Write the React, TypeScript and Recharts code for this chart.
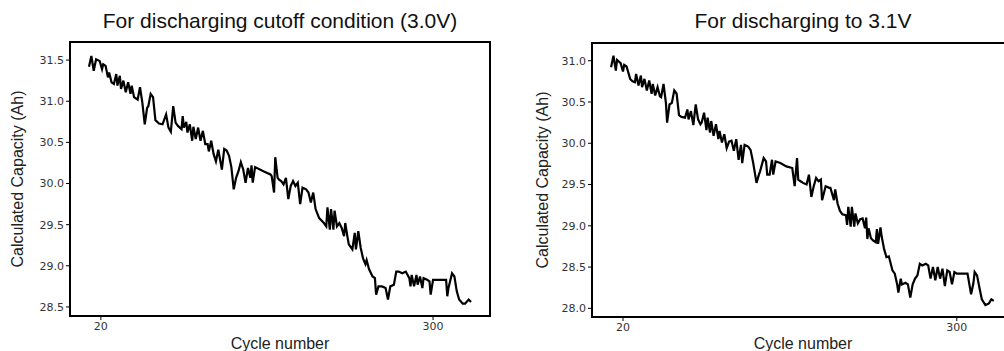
import React from 'react';
import { LineChart, Line, XAxis, YAxis, ReferenceArea, Label } from 'recharts';

// cutoff 3.0V panel
const cycles30 = [
  10, 12, 14, 16, 19, 21, 22, 24, 26, 27, 29, 31, 33, 34, 36, 37, 39, 41, 43, 45, 46, 48, 51, 53, 55, 57, 59, 60, 62, 64,
  66, 69, 72, 75, 77, 79, 81, 83, 85, 88, 89, 90, 92, 93, 95, 97, 98, 100, 102, 104, 106, 108, 110, 111, 113, 115, 117, 119,
  122, 124, 126, 128, 130, 132, 134, 136, 138, 140, 142, 144, 146, 147, 148, 150, 157, 163, 164, 166, 167, 169, 170, 172,
  174, 176, 178, 180, 182, 184, 186, 188, 190, 193, 195, 197, 199, 201, 204, 208, 210, 211, 213, 214, 216, 217, 219, 221,
  223, 225, 226, 228, 229, 232, 234, 235, 237, 239, 241, 243, 244, 246, 249, 251, 252, 254, 257, 260, 262, 264, 267, 269,
  271, 274, 277, 280, 281, 282, 284, 286, 287, 289, 291, 292, 295, 297, 298, 300, 304, 308, 311, 312, 313, 316, 318, 320,
  322, 325, 327, 330, 332,
];
const capacity30 = [
  31.42, 31.55, 31.37, 31.51, 31.49, 31.39, 31.45, 31.43, 31.29, 31.35, 31.23, 31.21, 31.33, 31.19, 31.31, 31.15, 31.25,
  31.11, 31.23, 31.09, 31.19, 31.05, 31.02, 31.17, 30.98, 30.72, 30.92, 30.94, 31.09, 31.05, 30.77, 30.73, 30.72, 30.84,
  30.68, 30.63, 30.94, 30.74, 30.70, 30.66, 30.82, 30.68, 30.75, 30.62, 30.72, 30.52, 30.69, 30.54, 30.68, 30.52, 30.64,
  30.48, 30.48, 30.39, 30.52, 30.36, 30.27, 30.41, 30.17, 30.42, 30.40, 30.34, 30.20, 29.93, 30.07, 30.15, 30.26, 30.17,
  30.01, 30.19, 30.07, 30.22, 30.01, 30.20, 30.15, 30.11, 30.09, 29.89, 30.32, 30.07, 30.05, 30.03, 29.99, 30.07, 29.81,
  29.97, 30.03, 29.97, 30.01, 29.75, 29.95, 29.93, 29.89, 29.77, 29.89, 29.69, 29.58, 29.52, 29.48, 29.71, 29.44, 29.69,
  29.44, 29.67, 29.48, 29.52, 29.46, 29.36, 29.52, 29.34, 29.26, 29.20, 29.40, 29.20, 29.42, 29.22, 29.09, 29.02, 29.07,
  28.96, 28.87, 28.85, 28.65, 28.75, 28.75, 28.73, 28.59, 28.75, 28.77, 28.93, 28.93, 28.91, 28.93, 28.85, 28.75, 28.89,
  28.75, 28.89, 28.77, 28.87, 28.73, 28.85, 28.83, 28.81, 28.65, 28.83, 28.83, 28.83, 28.83, 28.63, 28.73, 28.91, 28.87,
  28.69, 28.59, 28.54, 28.54, 28.59, 28.56,
];

// discharge to 3.1V panel
const cycles31 = [
  10, 12, 14, 15, 18, 20, 21, 23, 26, 28, 30, 31, 33, 35, 36, 38, 40, 42, 44, 45, 47, 49, 51, 52, 54, 56, 57, 59, 61, 63,
  65, 67, 69, 72, 74, 75, 77, 79, 81, 83, 85, 86, 88, 90, 91, 93, 94, 96, 98, 100, 101, 103, 105, 107, 109, 111, 113, 115,
  117, 119, 120, 122, 125, 127, 129, 132, 134, 135, 138, 140, 141, 143, 145, 146, 148, 152, 157, 162, 164, 166, 167, 169,
  171, 174, 176, 178, 180, 182, 184, 186, 187, 190, 193, 194, 197, 198, 200, 202, 204, 207, 208, 209, 211, 212, 214, 215,
  217, 219, 221, 223, 224, 225, 226, 228, 230, 232, 233, 234, 236, 237, 239, 241, 243, 245, 246, 248, 250, 251, 253, 254,
  257, 259, 261, 263, 265, 267, 269, 271, 274, 276, 278, 280, 282, 284, 286, 288, 290, 292, 294, 296, 298, 300, 305, 309,
  312, 314, 315, 317, 319, 321, 324, 327, 329, 331,
];
const capacity31 = [
  30.92, 31.06, 30.88, 31.01, 30.97, 30.87, 30.95, 30.93, 30.78, 30.75, 30.74, 30.84, 30.70, 30.82, 30.68, 30.78, 30.64,
  30.76, 30.60, 30.72, 30.58, 30.68, 30.57, 30.56, 30.72, 30.49, 30.25, 30.47, 30.49, 30.64, 30.60, 30.34, 30.32, 30.31,
  30.41, 30.29, 30.39, 30.22, 30.47, 30.29, 30.23, 30.25, 30.37, 30.16, 30.31, 30.13, 30.27, 30.09, 30.23, 30.05, 30.15,
  30.01, 30.11, 29.94, 30.02, 30.03, 29.91, 30.05, 29.80, 29.98, 29.76, 29.98, 29.96, 29.92, 29.78, 29.52, 29.62, 29.66,
  29.82, 29.78, 29.62, 29.62, 29.80, 29.62, 29.78, 29.76, 29.72, 29.70, 29.48, 29.82, 29.56, 29.54, 29.52, 29.50, 29.62,
  29.35, 29.48, 29.58, 29.54, 29.56, 29.31, 29.48, 29.46, 29.46, 29.31, 29.44, 29.27, 29.18, 29.14, 29.13, 29.01, 29.23,
  28.99, 29.23, 28.99, 29.15, 29.03, 29.08, 29.09, 28.97, 29.10, 28.84, 28.97, 28.85, 28.82, 28.80, 28.96, 28.78, 28.98,
  28.87, 28.72, 28.62, 28.63, 28.52, 28.46, 28.42, 28.29, 28.19, 28.36, 28.29, 28.31, 28.29, 28.13, 28.29, 28.36, 28.40,
  28.54, 28.52, 28.54, 28.52, 28.36, 28.50, 28.34, 28.50, 28.36, 28.48, 28.27, 28.46, 28.44, 28.29, 28.44, 28.42, 28.42,
  28.42, 28.17, 28.31, 28.44, 28.40, 28.25, 28.11, 28.04, 28.06, 28.11, 28.09,
];

const xTicks = [20, 300];
const yTicks30 = [28.5, 29.0, 29.5, 30.0, 30.5, 31.0, 31.5];
const yTicks31 = [28.0, 28.5, 29.0, 29.5, 30.0, 30.5, 31.0];

const sans = '"Liberation Sans", Arial, sans-serif';
const tickFont = { fontFamily: '"DejaVu Sans", sans-serif', fontSize: 11, fill: '#333' };

const YLabel = ({ viewBox, value, cx }: any) => {
  const cy = viewBox.y + viewBox.height / 2;
  return (
    <text x={cx} y={cy} transform={`rotate(-90 ${cx} ${cy})`} textAnchor="middle" dominantBaseline="central"
      fontFamily={sans} fontSize={16} fill="#222">
      {value}
    </text>
  );
};

const XLabel = ({ viewBox }: any) => (
  <text x={viewBox.x + viewBox.width / 2} y={349} textAnchor="middle" fontFamily={sans} fontSize={16} fill="#222">
    Cycle number
  </text>
);

interface PanelProps {
  cycles: number[];
  values: number[];
  yTicks: number[];
  yDomain: [number, number];
  marginLeft: number;
  marginTop: number;
  xAxisHeight: number;
  width: number;
  labelX: number;
}

const Panel: React.FC<PanelProps> = ({ cycles, values, yTicks, yDomain, marginLeft, marginTop, xAxisHeight, width, labelX }) => {
  const data = cycles.map((c, i) => ({ cycle: c, capacity: values[i] }));
  return (
    <LineChart width={width} height={351} data={data} margin={{ top: marginTop, right: 10, left: marginLeft, bottom: 0 }}>
      <XAxis dataKey="cycle" type="number" domain={[-6, 348]} ticks={xTicks} allowDataOverflow
        axisLine={false} tickLine={{ stroke: '#000' }} tickSize={4} tick={tickFont} height={xAxisHeight}>
        <Label content={<XLabel />} />
      </XAxis>
      <YAxis type="number" domain={yDomain} ticks={yTicks} allowDataOverflow width={60}
        axisLine={false} tickLine={{ stroke: '#000' }} tickSize={4} tick={tickFont}
        tickFormatter={(v: number) => v.toFixed(1)}>
        <Label content={<YLabel value="Calculated Capacity (Ah)" cx={labelX} />} />
      </YAxis>
      <ReferenceArea x1={-6} x2={348} y1={yDomain[0]} y2={yDomain[1]} fill="none" stroke="#000" strokeWidth={2}
        ifOverflow="visible" />
      <Line type="linear" dataKey="capacity" stroke="#000" strokeWidth={2.2} dot={false} isAnimationActive={false} />
    </LineChart>
  );
};

export default function App() {
  return (
    <div style={{ position: 'absolute', left: 0, top: 0, width: 1004, height: 351, overflow: 'hidden', background: '#fff' }}>
      <div style={{ position: 'absolute', left: 0, top: 0 }}>
        <Panel cycles={cycles30} values={capacity30} yTicks={yTicks30} yDomain={[28.39, 31.72]}
          marginLeft={10} marginTop={42} xAxisHeight={35} width={500} labelX={17} />
      </div>
      <div style={{ position: 'absolute', left: 500, top: 0 }}>
        <Panel cycles={cycles31} values={capacity31} yTicks={yTicks31} yDomain={[27.895, 31.215]}
          marginLeft={32} marginTop={43} xAxisHeight={34} width={524} labelX={42} />
      </div>
      <div style={{ position: 'absolute', left: 70, width: 420, top: 10, textAlign: 'center', fontFamily: sans,
        fontSize: 21, lineHeight: '21px', color: '#111', whiteSpace: 'nowrap' }}>
        For discharging cutoff condition (3.0V)
      </div>
      <div style={{ position: 'absolute', left: 592, width: 422, top: 10, textAlign: 'center', fontFamily: sans,
        fontSize: 21, lineHeight: '21px', color: '#111', whiteSpace: 'nowrap' }}>
        For discharging to 3.1V
      </div>
    </div>
  );
}
